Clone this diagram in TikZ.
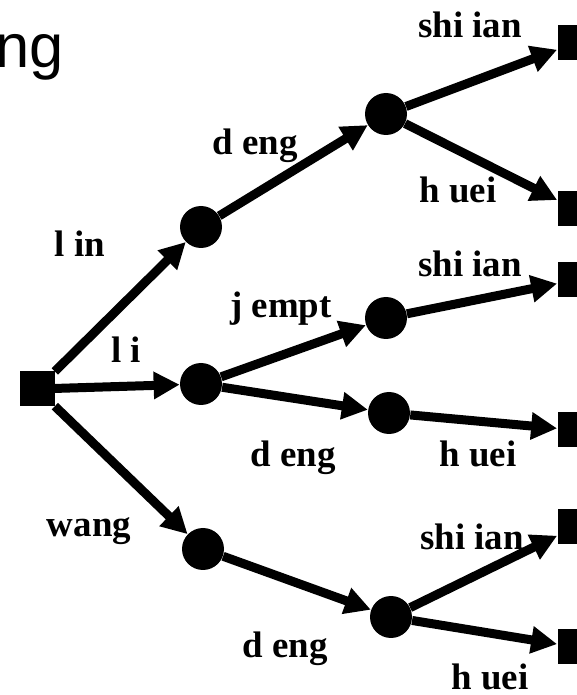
\documentclass[tikz,border=0pt]{standalone}
\usepackage{fontspec}
\setmainfont{Liberation Serif}
\newfontfamily\titulofont{Liberation Sans}
\usetikzlibrary{arrows.meta}

\tikzset{
  estado/.style={circle, fill=black, minimum size=0.84cm, inner sep=0pt},
  hoja/.style={rectangle, fill=black, minimum size=0.7cm, inner sep=0pt},
  flecha/.style={line width=0.18cm, -{Triangle[length=0.52cm,width=0.52cm]}},
  etiqueta/.style={font=\fontsize{21}{24}\selectfont\bfseries, inner sep=0pt, anchor=base}
}

\begin{document}
\begin{tikzpicture}
            % Marco de la figura
            \useasboundingbox (0,0) rectangle (11.54,13.9);
            \clip (0,0) rectangle (11.54,13.9);

            % Titulo cortado
            \node[anchor=base west, inner sep=0pt, font=\titulofont\fontsize{35}{38}\selectfont] (titulo) at (-0.1,12.54) {ng};

            % Nodos
            \node[hoja] (raiz) at (0.74,6.12) {};
            \node[estado] (lin) at (4.02,9.36) {};
            \node[estado] (li) at (4.02,6.22) {};
            \node[estado] (wang) at (4.06,2.92) {};
            \node[estado] (lindeng) at (7.72,11.62) {};
            \node[estado] (lij) at (7.72,7.54) {};
            \node[estado] (lideng) at (7.78,5.64) {};
            \node[estado] (wangdeng) at (7.82,1.56) {};
            \node[hoja] (h1) at (11.5,13.04) {};
            \node[hoja] (h2) at (11.5,9.72) {};
            \node[hoja] (h3) at (11.5,8.3) {};
            \node[hoja] (h4) at (11.5,5.3) {};
            \node[hoja] (h5) at (11.5,3.36) {};
            \node[hoja] (h6) at (11.5,0.96) {};

            % Flechas
            \draw[flecha] (raiz) -- (lin);
            \draw[flecha] (raiz) -- (li);
            \draw[flecha] (raiz) -- (wang);
            \draw[flecha] (lin) -- (lindeng);
            \draw[flecha] (li) -- (lij);
            \draw[flecha] (li) -- (lideng);
            \draw[flecha] (wang) -- (wangdeng);
            \draw[flecha] (lindeng) -- (h1);
            \draw[flecha] (lindeng) -- (h2);
            \draw[flecha] (lij) -- (h3);
            \draw[flecha] (lideng) -- (h4);
            \draw[flecha] (wangdeng) -- (h5);
            \draw[flecha] (wangdeng) -- (h6);

            % Etiquetas de las flechas
            \node[etiqueta] (e1) at (1.6,8.76) {l in};
            \node[etiqueta] (e2) at (2.52,6.64) {l i};
            \node[etiqueta] (e3) at (1.78,3.16) {wang};
            \node[etiqueta] (e4) at (5.1,10.8) {d eng};
            \node[etiqueta] (e5) at (5.62,7.54) {j empt};
            \node[etiqueta] (e6) at (5.86,4.58) {d eng};
            \node[etiqueta] (e7) at (5.7,0.74) {d eng};
            \node[etiqueta] (e8) at (9.4,13.14) {shi ian};
            \node[etiqueta] (e9) at (9.16,9.84) {h uei};
            \node[etiqueta] (e10) at (9.4,8.36) {shi ian};
            \node[etiqueta] (e11) at (9.56,4.58) {h uei};
            \node[etiqueta] (e12) at (9.44,2.9) {shi ian};
            \node[etiqueta] (e13) at (9.8,0.12) {h uei};
        \end{tikzpicture}
\end{document}
